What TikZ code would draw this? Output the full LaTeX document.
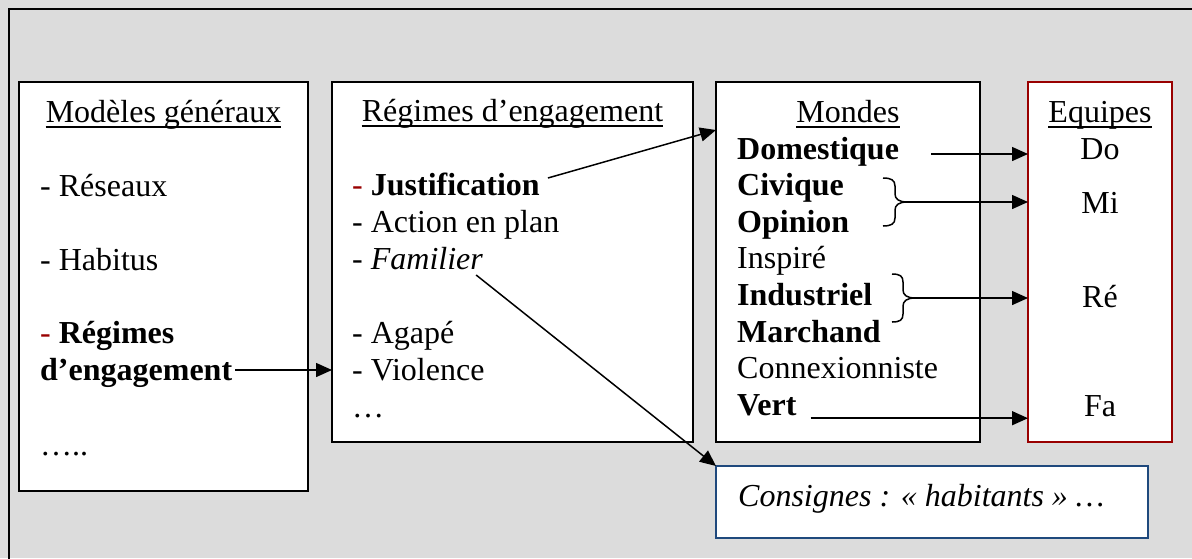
\documentclass[tikz,border=0pt]{standalone}
\usepackage{fontspec}
\setmainfont{Liberation Serif}
\usetikzlibrary{arrows.meta}
\definecolor{bggray}{RGB}{220,220,220}
\definecolor{dred}{RGB}{153,0,0}
\definecolor{dblue}{RGB}{31,73,125}
\begin{document}
\begin{tikzpicture}[x=1pt,y=-1pt,
  box/.style={draw, line width=2pt, fill=white, anchor=north west, inner sep=0pt, outer sep=0pt},
  txt/.style={anchor=base west, inner sep=0pt, font=\fontsize{32}{38}\selectfont},
  ctxt/.style={txt, anchor=base},
  arr/.style={line width=1.5pt, -{Triangle[length=16pt,width=14pt]}},
  bracestyle/.style={line width=1.5pt},
  ul/.style={line width=1.8pt}]
\useasboundingbox (0,0) rectangle (1192,558);
\fill[bggray] (0,0) rectangle (1192,558);
\draw[line width=2.5pt] (9,560) -- (9,9) -- (1194,9);

% boxes
\node[box, minimum width=289pt, minimum height=409pt] (b1) at (19,82) {};
\node[box, minimum width=361pt, minimum height=360pt] (b2) at (332,82) {};
\node[box, minimum width=264pt, minimum height=360pt] (b3) at (716,82) {};
\node[box, draw=dred, minimum width=144pt, minimum height=360pt] (b4) at (1028,82) {};
\node[box, draw=dblue, minimum width=432pt, minimum height=72pt] (b5) at (716,466) {};

% box 1
\node[ctxt] (h1) at (163.5,122) {Modèles généraux};
\draw[ul] ([yshift=-5pt]h1.base west) -- ([yshift=-5pt]h1.base east);
\node[txt] (m1) at (40,196) {- Réseaux};
\node[txt] (m2) at (40,270) {- Habitus};
\node[txt] (m3) at (40,343) {\textcolor{dred}{-} \textbf{Régimes}};
\node[txt] (m4) at (40,380) {\textbf{d’engagement}};
\node[txt] (m5) at (40,455) {…..};

% box 2
\node[ctxt] (h2) at (512.5,121) {Régimes d’engagement};
\draw[ul] ([yshift=-5pt]h2.base west) -- ([yshift=-5pt]h2.base east);
\node[txt] (r1) at (352,195) {\textcolor{dred}{-} \textbf{Justification}};
\node[txt] (r2) at (352,232) {- Action en plan};
\node[txt] (r3) at (352,269) {- \textit{Familier}};
\node[txt] (r4) at (352,343) {- Agapé};
\node[txt] (r5) at (352,380) {- Violence};
\node[txt] (r6) at (352,417) {…};

% box 3
\node[ctxt] (h3) at (848,122) {Mondes};
\draw[ul] ([yshift=-5pt]h3.base west) -- ([yshift=-5pt]h3.base east);
\node[txt] (w1) at (737,159) {\textbf{Domestique}};
\node[txt] (w2) at (737,195.6) {\textbf{Civique}};
\node[txt] (w3) at (737,232.2) {\textbf{Opinion}};
\node[txt] (w4) at (737,268.8) {Inspiré};
\node[txt] (w5) at (737,305.4) {\textbf{Industriel}};
\node[txt] (w6) at (737,342) {\textbf{Marchand}};
\node[txt] (w7) at (737,378.6) {Connexionniste};
\node[txt] (w8) at (737,415.2) {\textbf{Vert}};

% box 4
\node[ctxt] (h4) at (1100,122) {Equipes};
\draw[ul] ([yshift=-5pt]h4.base west) -- ([yshift=-5pt]h4.base east);
\node[ctxt] (e1) at (1100,159) {Do};
\node[ctxt] (e2) at (1100,213) {Mi};
\node[ctxt] (e3) at (1100,307) {Ré};
\node[ctxt] (e4) at (1100,416) {Fa};

% box 5
\node[txt] (c1) at (738,506) {\textit{Consignes : « habitants » …}};

% braces
\draw[bracestyle] (883,178) .. controls (891,178) and (895,180) .. (895,186) -- (895,194)
  .. controls (895,199) and (899,202) .. (907,202)
  .. controls (899,202) and (895,205) .. (895,210) -- (895,218)
  .. controls (895,224) and (891,226) .. (883,226);
\coordinate (br1) at (907,202);
\draw[bracestyle] (892,274) .. controls (900,274) and (903,276) .. (903,282) -- (903,290)
  .. controls (903,295) and (907,298) .. (915,298)
  .. controls (907,298) and (903,301) .. (903,306) -- (903,314)
  .. controls (903,320) and (900,322) .. (892,322);
\coordinate (br2) at (915,298);

% connectors
\coordinate (a1s) at ([xshift=3pt,yshift=10pt]m4.base east);
\draw[arr] (a1s) -- (a1s -| b2.west);
\coordinate (a2s) at ([xshift=8pt,yshift=17pt]r1.base east);
\coordinate (a2e) at ([yshift=-48pt]b3.north west);
\draw[arr] (a2s) -- (a2e);
\coordinate (a3s) at ([xshift=-7pt,yshift=-6pt]r3.base east);
\draw[arr] (a3s) -- (b5.north west);
\coordinate (a4s) at ([xshift=32pt,yshift=5pt]w1.base east);
\draw[arr] (a4s) -- (a4s -| b4.west);
\draw[arr] (br1) -- (br1 -| b4.west);
\draw[arr] (br2) -- (br2 -| b4.west);
\coordinate (a5s) at ([xshift=14pt,yshift=-3pt]w8.base east);
\draw[arr] (a5s) -- (a5s -| b4.west);
\end{tikzpicture}
\end{document}
